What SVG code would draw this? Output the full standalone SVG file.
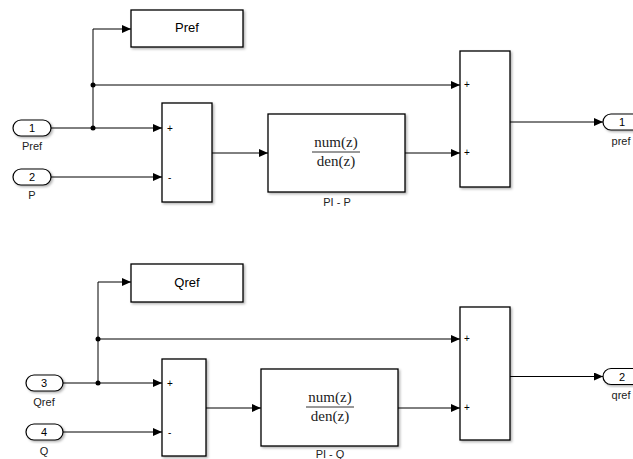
<svg xmlns="http://www.w3.org/2000/svg" width="633" height="459" viewBox="0 0 633 459">
<style>
.blk{fill:#fff;stroke:#000;stroke-width:1.3;filter:url(#sh)}
.port{fill:#fff;stroke:#000;stroke-width:1.2;filter:url(#sh)}
.ln{fill:none;stroke:#000;stroke-width:1}
.arr{marker-end:url(#ah)}
.t{font-family:"Liberation Sans",Arial,sans-serif;fill:#000}
.bt{font-size:13px;text-anchor:middle}
.pt{font-size:11px;text-anchor:middle}
.lb{font-size:11px;text-anchor:middle;fill:#222}
.sg{font-size:10px}
.fr{font-family:"Liberation Serif","Times New Roman",serif;font-size:15px;text-anchor:middle;fill:#222}
.dot{fill:#000}
</style>
<defs>
<filter id="sh" x="-20%" y="-20%" width="140%" height="140%">
<feDropShadow dx="1.5" dy="1.5" stdDeviation="1.2" flood-color="#000" flood-opacity="0.3"/>
</filter>
<marker id="ah" markerWidth="10" markerHeight="8" refX="9" refY="4" orient="auto" markerUnits="userSpaceOnUse">
<path d="M0,0 L9,4 L0,8 Z" fill="#000"/>
</marker>
</defs>

<g id="connectors">
<path class="ln arr" d="M51,128 H162"/>
<path class="ln arr" d="M93,128 V29 H131"/>
<path class="ln arr" d="M93,85 H460"/>
<path class="ln arr" d="M51,177 H162"/>
<path class="ln arr" d="M212,153 H268"/>
<path class="ln arr" d="M405,153 H460"/>
<path class="ln arr" d="M510,122 H603"/>
<circle class="dot" cx="93" cy="128" r="2.5"/>
<circle class="dot" cx="93" cy="85" r="2.5"/>

<path class="ln arr" d="M63,383 H162"/>
<path class="ln arr" d="M98,383 V282 H131"/>
<path class="ln arr" d="M98,339 H460"/>
<path class="ln arr" d="M63,432 H162"/>
<path class="ln arr" d="M206,408 H261"/>
<path class="ln arr" d="M398,408 H460"/>
<path class="ln arr" d="M510,376.5 H603"/>
<circle class="dot" cx="98" cy="383" r="2.5"/>
<circle class="dot" cx="98" cy="339" r="2.5"/>
</g>

<g id="in1">
<rect class="port" x="13" y="120" width="38" height="16" rx="8"/>
<text class="t pt" x="32" y="132">1</text>
<text class="t lb" x="32" y="150">Pref</text>
</g>
<g id="in2">
<rect class="port" x="13" y="169" width="38" height="16" rx="8"/>
<text class="t pt" x="32" y="181">2</text>
<text class="t lb" x="32" y="199">P</text>
</g>
<g id="pref_block">
<rect class="blk" x="131" y="10" width="112" height="37"/>
<text class="t bt" x="187" y="32">Pref</text>
</g>
<g id="sum1">
<rect class="blk" x="162" y="103" width="50" height="99"/>
<text class="t sg" x="167" y="132">+</text>
<text class="t sg" x="168" y="181">-</text>
</g>
<g id="pi_p">
<rect class="blk" x="268" y="114" width="137" height="78"/>
<text class="fr" x="336" y="147">num(z)</text>
<line x1="312" y1="152" x2="360" y2="152" stroke="#333" stroke-width="1"/>
<text class="fr" x="336" y="166">den(z)</text>
<text class="t lb" x="337" y="206">PI - P</text>
</g>
<g id="sumout1">
<rect class="blk" x="460" y="51" width="50" height="136"/>
<text class="t sg" x="464" y="88" font-size="9">+</text>
<text class="t sg" x="464" y="156" font-size="9">+</text>
</g>
<g id="out1">
<rect class="port" x="603" y="114" width="44" height="16" rx="8"/>
<text class="t pt" x="622" y="126">1</text>
<text class="t lb" x="621" y="145">pref</text>
</g>

<g id="in3">
<rect class="port" x="26" y="375" width="37" height="16" rx="8"/>
<text class="t pt" x="44" y="387">3</text>
<text class="t lb" x="44" y="406">Qref</text>
</g>
<g id="in4">
<rect class="port" x="26" y="424" width="37" height="16" rx="8"/>
<text class="t pt" x="44" y="436">4</text>
<text class="t lb" x="44" y="455">Q</text>
</g>
<g id="qref_block">
<rect class="blk" x="131" y="264" width="112" height="38"/>
<text class="t bt" x="187" y="287">Qref</text>
</g>
<g id="sum2">
<rect class="blk" x="162" y="359" width="44" height="97"/>
<text class="t sg" x="167" y="387">+</text>
<text class="t sg" x="168" y="436">-</text>
</g>
<g id="pi_q">
<rect class="blk" x="261" y="369" width="137" height="77"/>
<text class="fr" x="330" y="402">num(z)</text>
<line x1="306" y1="407" x2="354" y2="407" stroke="#333" stroke-width="1"/>
<text class="fr" x="330" y="421">den(z)</text>
<text class="t lb" x="330" y="458">PI - Q</text>
</g>
<g id="sumout2">
<rect class="blk" x="460" y="307" width="50" height="133"/>
<text class="t sg" x="464" y="342" font-size="9">+</text>
<text class="t sg" x="464" y="411" font-size="9">+</text>
</g>
<g id="out2">
<rect class="port" x="603" y="368.5" width="44" height="16" rx="8"/>
<text class="t pt" x="622" y="380.5">2</text>
<text class="t lb" x="621" y="399">qref</text>
</g>
</svg>
